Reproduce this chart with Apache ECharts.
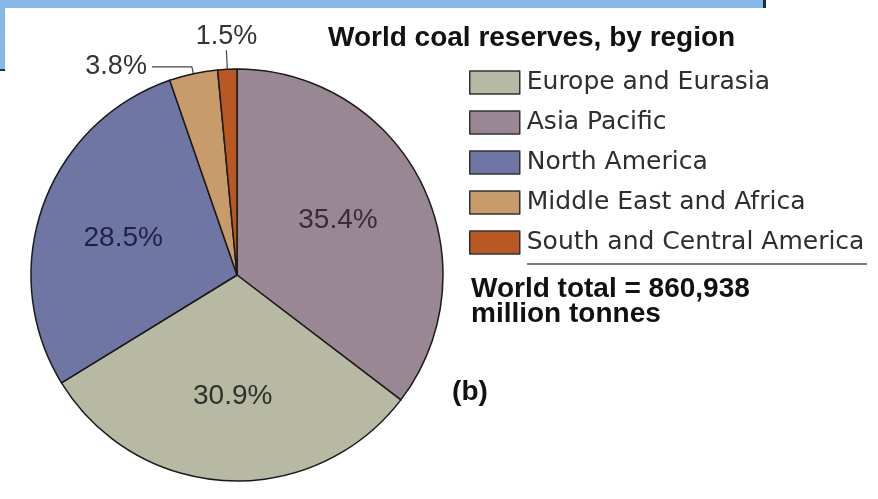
<!DOCTYPE html>
<html>
<head>
<meta charset="utf-8">
<script src="https://cdn.jsdelivr.net/npm/echarts@6/dist/echarts.min.js"></script>
<style>
html,body{margin:0;padding:0;background:#ffffff;}
#chart{width:878px;height:499px;}
</style>
</head>
<body>
<div id="chart"></div>
<script>
// ---- data ----
const categories = ['Asia Pacific', 'Europe and Eurasia', 'North America', 'Middle East and Africa', 'South and Central America'];
const shares = [35.4, 30.9, 28.5, 3.8, 1.5];
const legendOrder = ['Europe and Eurasia', 'Asia Pacific', 'North America', 'Middle East and Africa', 'South and Central America'];
const titleText = 'World coal reserves, by region';
const totalLine1 = 'World total = 860,938';
const totalLine2 = 'million tonnes';
const panelTag = '(b)';

// ---- styles ----
const sliceColors = ['#9a8794', '#b7b9a3', '#7076a4', '#c89c6a', '#b95823'];
const labelColors = ['#3b2a3d', '#2f302a', '#1e2244', '#333333', '#333333'];
const labelInside = [true, true, true, false, false];
const lineLen = [0, 0, 0, 7, 19];
const lineLen2 = [0, 0, 0, 40, 0];

const chart = echarts.init(document.getElementById('chart'), null, {renderer: 'canvas'});

const data = categories.map((name, i) => ({
  name: name,
  value: shares[i],
  itemStyle: {color: sliceColors[i]},
  label: labelInside[i] ? {
    show: true, position: 'inside', color: labelColors[i],
    fontFamily: 'Liberation Sans', fontSize: 28
  } : {
    show: true, position: 'outside', color: labelColors[i],
    fontFamily: 'Liberation Sans', fontSize: 27,
    distanceToLabelLine: i === 4 ? 0 : 5
  },
  labelLine: labelInside[i] ? {show: false} : {
    show: true, length: lineLen[i], length2: lineLen2[i],
    lineStyle: {color: '#444', width: 1.2}
  }
}));

const option = {
  backgroundColor: '#ffffff',
  animation: false,
  title: {
    text: titleText,
    left: 328, top: 24, padding: 0,
    textStyle: {fontFamily: 'Liberation Sans', fontWeight: 'bold', fontSize: 28, lineHeight: 28, color: '#111'}
  },
  legend: {
    orient: 'vertical',
    left: 469, top: 70, padding: 0,
    data: legendOrder,
    icon: 'rect',
    itemWidth: 50, itemHeight: 23, itemGap: 15,
    itemStyle: {borderColor: '#333', borderWidth: 1.5},
    textStyle: {fontFamily: 'DejaVu Sans', fontSize: 25, lineHeight: 23, color: '#2e2e2e', padding: [0, 0, 0, 2]},
    selectedMode: false
  },
  series: [{
    type: 'pie',
    center: [237, 275],
    radius: 206,
    startAngle: 90,
    clockwise: true,
    avoidLabelOverlap: false,
    emphasis: {disabled: true},
    itemStyle: {borderColor: '#1a1a1a', borderWidth: 1.5},
    label: {formatter: '{c}%'},
    labelLayout: function (p) {
      const i = p.dataIndex;
      if (i === 0) return {dx: 6, dy: -8};
      if (i === 1) return {dx: 1, dy: 15};
      if (i === 2) return {dx: -14, dy: -1};
      if (i === 4) return {align: 'center', verticalAlign: 'bottom'};
      return {};
    },
    data: data
  }],
  graphic: [
    {type: 'rect', shape: {x: 0, y: 0, width: 765, height: 8}, style: {fill: '#88b8e8'}, silent: true},
    {type: 'rect', shape: {x: 0, y: 0, width: 5, height: 70}, style: {fill: '#88b8e8'}, silent: true},
    {type: 'rect', shape: {x: 0, y: 69, width: 5, height: 2}, style: {fill: '#23344f'}, silent: true},
    {type: 'rect', shape: {x: 763, y: 0, width: 3, height: 8}, style: {fill: '#1d2c48'}, silent: true},
    {type: 'line', shape: {x1: 527, y1: 264, x2: 867, y2: 264}, style: {stroke: '#555', lineWidth: 1.5}, silent: true},
    {type: 'text', x: 471, y: 289, silent: true,
      style: {text: totalLine1, font: 'bold 28px "Liberation Sans"', fill: '#111', verticalAlign: 'middle', align: 'left'}},
    {type: 'text', x: 471, y: 314, silent: true,
      style: {text: totalLine2, font: 'bold 28px "Liberation Sans"', fill: '#111', verticalAlign: 'middle', align: 'left'}},
    {type: 'text', x: 470, y: 392, silent: true,
      style: {text: panelTag, font: 'bold 28px "Liberation Sans"', fill: '#111', verticalAlign: 'middle', align: 'center'}}
  ]
};
chart.setOption(option);
</script>
</body>
</html>
